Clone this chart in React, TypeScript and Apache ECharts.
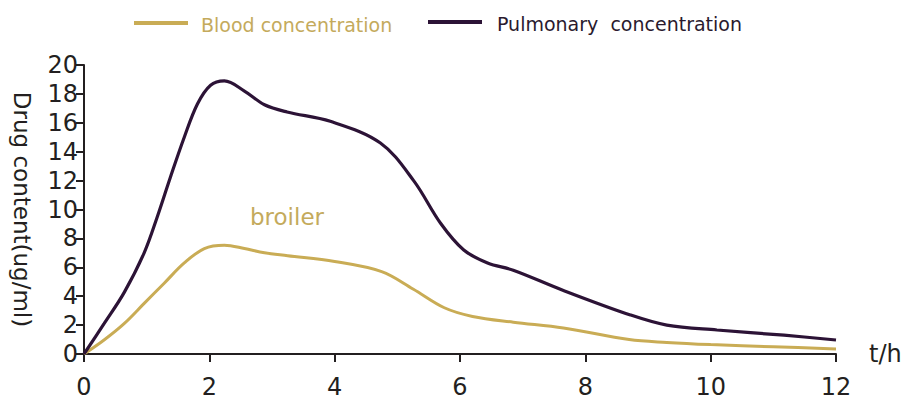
import React, { useEffect, useRef } from "react";
import * as echarts from "echarts";

const pulmonaryTimes = [0, 0.32, 0.64, 0.96, 1.17, 1.38, 1.6, 1.81, 2.02, 2.24, 2.56, 2.88, 3.24, 3.93, 4.73, 5.26, 5.69, 6.06, 6.44, 6.85, 7.65, 8.72, 9.3, 10.1, 11.17, 12];
const pulmonaryValues = [0, 2.1, 4.25, 7.0, 9.5, 12.25, 15.0, 17.3, 18.6, 18.9, 18.2, 17.25, 16.75, 16.1, 14.6, 12.0, 9.05, 7.2, 6.3, 5.8, 4.4, 2.7, 2.0, 1.66, 1.3, 0.97];
const bloodTimes = [0, 0.32, 0.64, 0.96, 1.28, 1.6, 1.92, 2.24, 2.56, 2.88, 3.25, 4, 4.75, 5.25, 5.75, 6.2, 6.85, 7.65, 8.7, 9.3, 10, 11, 12];
const bloodValues = [0, 0.97, 2.1, 3.5, 4.9, 6.3, 7.3, 7.53, 7.3, 7.0, 6.8, 6.4, 5.7, 4.5, 3.2, 2.6, 2.2, 1.8, 1.0, 0.8, 0.65, 0.5, 0.35];
const seriesNames = ["Blood concentration", "Pulmonary  concentration"];
const annotation = "broiler";
const xAxisName = "t/h";
const yAxisName = "Drug content(ug/ml)";

const GOLD = "#C9AC55";
const GOLD_TEXT = "#C4AA5C";
const PURPLE = "#2C1336";
const AXIS = "#231F20";
const FONT = "DejaVu Sans";

export default function App() {
  const ref = useRef<HTMLDivElement>(null);
  useEffect(() => {
    if (!ref.current) return;
    const chart = echarts.init(ref.current, undefined, { renderer: "svg" });
    const axisCommon = {
      axisLine: { show: true, lineStyle: { color: AXIS, width: 2 } },
      axisTick: { show: true, inside: false, length: 8, lineStyle: { color: AXIS, width: 2 } },
      splitLine: { show: false },
    };
    chart.setOption({
      animation: false,
      backgroundColor: "#ffffff",
      grid: { left: 84, right: 68, top: 65, bottom: 46, containLabel: false, outerBoundsMode: "none" },
      xAxis: {
        type: "value",
        min: 0,
        max: 12,
        interval: 2,
        ...axisCommon,
        axisLabel: { color: AXIS, fontSize: 24, fontFamily: FONT, margin: 21 },
        name: xAxisName,
        nameLocation: "end",
        nameGap: 33,
        nameTextStyle: { color: AXIS, fontSize: 24, fontFamily: FONT, verticalAlign: "middle", padding: [14, 0, 0, 0] },
      },
      yAxis: {
        type: "value",
        min: 0,
        max: 20,
        interval: 2,
        ...axisCommon,
        axisLabel: { color: AXIS, fontSize: 24, fontFamily: FONT, margin: 6 },
        name: yAxisName,
        nameLocation: "middle",
        nameRotate: -90,
        nameGap: 51,
        nameTextStyle: { color: AXIS, fontSize: 23, fontFamily: FONT },
      },
      series: [
        {
          name: seriesNames[0],
          type: "line",
          smooth: 0.35,
          symbol: "none",
          lineStyle: { color: GOLD, width: 3 },
          data: bloodTimes.map((t, i) => [t, bloodValues[i]]),
        },
        {
          name: seriesNames[1],
          type: "line",
          smooth: 0.35,
          symbol: "none",
          lineStyle: { color: PURPLE, width: 3.2 },
          data: pulmonaryTimes.map((t, i) => [t, pulmonaryValues[i]]),
        },
      ],
      graphic: [
        { type: "line", shape: { x1: 134, y1: 23, x2: 188, y2: 23 }, style: { stroke: GOLD, lineWidth: 4 } },
        {
          type: "text",
          left: 201,
          top: 15,
          style: { text: seriesNames[0], fill: GOLD_TEXT, fontSize: 19, fontFamily: FONT },
        },
        { type: "line", shape: { x1: 428, y1: 22, x2: 482, y2: 22 }, style: { stroke: PURPLE, lineWidth: 4 } },
        {
          type: "text",
          left: 497,
          top: 14,
          style: { text: seriesNames[1], fill: "#2A1A2E", fontSize: 19, fontFamily: FONT },
        },
        {
          type: "text",
          left: 250,
          top: 205,
          style: { text: annotation, fill: GOLD_TEXT, fontSize: 23, fontFamily: FONT },
        },
      ],
    });
    return () => chart.dispose();
  }, []);
  return (
    <div
      ref={ref}
      style={{ position: "fixed", left: 0, top: 0, width: 904, height: 400, background: "#fff" }}
    />
  );
}
